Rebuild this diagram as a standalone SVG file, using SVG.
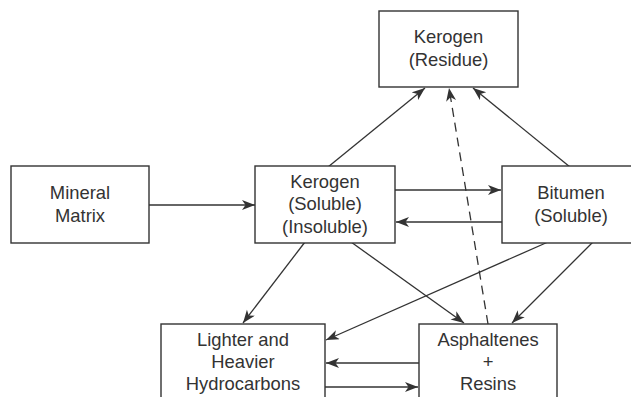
<svg xmlns="http://www.w3.org/2000/svg" width="631" height="397" viewBox="0 0 631 397">
  <style>
    .box { fill: #ffffff; stroke: #333333; stroke-width: 1.4; }
    .lbl { font-family: "Liberation Sans", Arial, sans-serif; font-size: 18.4px; fill: #333333; text-anchor: middle; }
    .edge { fill: none; stroke: #333333; stroke-width: 1.3; marker-end: url(#arrow); }
    .dash { stroke-dasharray: 9 6; }
  </style>
  <defs>
    <marker id="arrow" markerUnits="userSpaceOnUse" markerWidth="14" markerHeight="12" refX="13" refY="5" orient="auto">
      <path d="M0,0 L13,5 L0,10 L3.5,5 Z" fill="#333333"/>
    </marker>
  </defs>
  <rect width="631" height="397" fill="#ffffff"/>

  <g id="connectors">
    <line class="edge" x1="149" y1="205" x2="255" y2="205"/>
    <line class="edge" x1="395" y1="190" x2="501" y2="190"/>
    <line class="edge" x1="502" y1="222" x2="396" y2="222"/>
    <line class="edge" x1="328" y1="167" x2="425" y2="88"/>
    <line class="edge" x1="570" y1="167" x2="473" y2="88"/>
    <line class="edge dash" x1="488" y1="324" x2="449" y2="88"/>
    <line class="edge" x1="305" y1="242" x2="243" y2="323"/>
    <line class="edge" x1="351" y1="242" x2="464" y2="323"/>
    <line class="edge" x1="548" y1="242" x2="326" y2="340"/>
    <line class="edge" x1="593" y1="242" x2="512" y2="323"/>
    <line class="edge" x1="419" y1="363" x2="326" y2="363"/>
    <line class="edge" x1="325" y1="387" x2="418" y2="387"/>
  </g>

  <g id="kerogen-residue">
    <rect class="box" x="379" y="11" width="139" height="76"/>
    <text class="lbl" x="448.5" y="43">Kerogen</text>
    <text class="lbl" x="448.5" y="65.5">(Residue)</text>
  </g>

  <g id="mineral-matrix">
    <rect class="box" x="11" y="166" width="138" height="77"/>
    <text class="lbl" x="80" y="199">Mineral</text>
    <text class="lbl" x="80" y="221.5">Matrix</text>
  </g>

  <g id="kerogen-soluble">
    <rect class="box" x="255" y="166" width="140" height="77"/>
    <text class="lbl" x="325" y="187.5">Kerogen</text>
    <text class="lbl" x="325" y="210">(Soluble)</text>
    <text class="lbl" x="325" y="232.5">(Insoluble)</text>
  </g>

  <g id="bitumen">
    <rect class="box" x="502" y="166" width="140" height="77"/>
    <text class="lbl" x="571" y="199">Bitumen</text>
    <text class="lbl" x="571" y="221.5">(Soluble)</text>
  </g>

  <g id="hydrocarbons">
    <rect class="box" x="161" y="324" width="164" height="90"/>
    <text class="lbl" x="243" y="346">Lighter and</text>
    <text class="lbl" x="243" y="368">Heavier</text>
    <text class="lbl" x="243" y="390">Hydrocarbons</text>
  </g>

  <g id="asphaltenes-resins">
    <rect class="box" x="419" y="324" width="138" height="90"/>
    <text class="lbl" x="488" y="346">Asphaltenes</text>
    <text class="lbl" x="488" y="368">+</text>
    <text class="lbl" x="488" y="390">Resins</text>
  </g>
</svg>
